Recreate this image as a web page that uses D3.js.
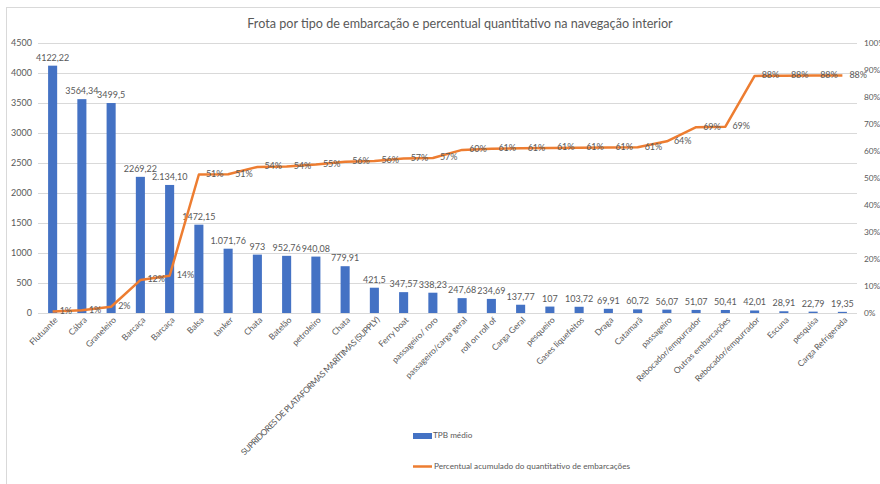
<!DOCTYPE html>
<html><head><meta charset="utf-8">
<script src="https://cdn.jsdelivr.net/npm/d3@7"></script>
<style>body{margin:0;background:#fff}svg{display:block;font-family:Lato,"Noto Sans",sans-serif}</style>
</head><body><svg id="c" width="880" height="484"></svg>
<script>
const categories = ["Flutuante","Cábra","Graneleiro","Barcaça","Barcaça","Balsa","tanker","Chata","Batelão","petroleiro","Chata","SUPRIDORES DE PLATAFORMAS MARÍTIMAS (SUPPLY)","Ferry boat","passageiro/ roro","passageiro/carga geral","roll on roll of","Carga Geral","pesqueiro","Gases liquefeitos","Draga","Catamarã","passageiro","Rebocador/empurrador","Outras embarcações","Rebocador/empurrador","Escuna","pesquisa","Carga Refrigerada"];
const tpbValues = [4122.22,3564.34,3499.5,2269.22,2134.10,1472.15,1071.76,973,952.76,940.08,779.91,421.5,347.57,338.23,247.68,234.69,137.77,107,103.72,69.91,60.72,56.07,51.07,50.41,42.01,28.91,22.79,19.35];
const tpbLabels = ["4122,22","3564,34","3499,5","2269,22","2.134,10","1472,15","1.071,76","973","952,76","940,08","779,91","421,5","347,57","338,23","247,68","234,69","137,77","107","103,72","69,91","60,72","56,07","51,07","50,41","42,01","28,91","22,79","19,35"];
const cumPercent = [0.6,1.0,2.3,12.2,13.8,51.3,51.4,54.1,54.3,55.0,56.0,56.3,57.2,57.4,60.4,60.8,61.0,61.1,61.2,61.3,61.4,63.6,68.8,69.0,87.8,87.9,88.0,88.0];
const leftTicks = [0,500,1000,1500,2000,2500,3000,3500,4000,4500];
const rightTicks = [0,10,20,30,40,50,60,70,80,90,100];
const title = "Frota por tipo de embarcação e percentual quantitativo na navegação interior";
const legendBar = "TPB médio";
const legendLine = "Percentual acumulado do quantitativo de embarcações";

const svg = d3.select("#c");
const gray = "#595959";
const L = 38, R = 857, T = 43, B = 313;

svg.append("rect").attr("x",6.5).attr("y",7.5).attr("width",900).attr("height",500)
  .attr("fill","none").attr("stroke","#d9d9d9").attr("stroke-width",1);

svg.append("text").attr("x",460).attr("y",28).attr("text-anchor","middle")
  .attr("font-size",12.6).attr("fill",gray).text(title);

const x = d3.scaleBand().domain(d3.range(categories.length)).range([L,R]).paddingInner(0.69).paddingOuter(0.345);
const y = d3.scaleLinear().domain([0,4500]).range([B,T]);
const y2 = d3.scaleLinear().domain([0,100]).range([B,T]);

svg.append("g").selectAll("line").data(leftTicks).join("line")
  .attr("x1",L).attr("x2",R).attr("y1",d=>y(d)+0.5).attr("y2",d=>y(d)+0.5)
  .attr("stroke","#d9d9d9").attr("stroke-width",1);

const ax = svg.append("g").attr("transform",`translate(${L},0)`)
  .call(d3.axisLeft(y).tickValues(leftTicks).tickSize(0).tickPadding(6).tickFormat(d3.format("d")));
ax.select(".domain").remove();
ax.selectAll("text").attr("fill",gray).attr("font-size",9).attr("font-family","Lato");

const ax2 = svg.append("g").attr("transform",`translate(${R},0)`)
  .call(d3.axisRight(y2).tickValues(rightTicks).tickSize(0).tickPadding(7).tickFormat(d=>d+"%"));
ax2.select(".domain").remove();
ax2.selectAll("text").attr("fill",gray).attr("font-size",8.3).attr("font-family","Lato");

svg.append("g").selectAll("rect").data(tpbValues).join("rect")
  .attr("x",(d,i)=>x(i)).attr("width",x.bandwidth())
  .attr("y",d=>y(d)).attr("height",d=>B-y(d)).attr("fill","#4472C4");

svg.append("g").selectAll("text").data(tpbValues).join("text")
  .attr("x",(d,i)=>x(i)+x.bandwidth()/2).attr("y",d=>y(d)-5)
  .attr("text-anchor","middle").attr("font-size",9).attr("fill",gray)
  .text((d,i)=>tpbLabels[i]);

svg.append("g").selectAll("text").data(categories).join("text")
  .attr("transform",(d,i)=>`translate(${x(i)+x.bandwidth()/2+4},${B+6}) rotate(-45)`)
  .attr("text-anchor","end").attr("dominant-baseline","middle")
  .attr("font-size",8.5).attr("letter-spacing",d=>d===d.toUpperCase()?-0.5:0)
  .attr("fill",gray).text(d=>d);

const cx = i => x(i)+x.bandwidth()/2;
svg.append("path").datum(cumPercent)
  .attr("d",d3.line().x((d,i)=>cx(i)).y(d=>y2(d)))
  .attr("fill","none").attr("stroke","#ED7D31").attr("stroke-width",2.5).attr("stroke-linejoin","round");

svg.append("g").selectAll("text").data(cumPercent).join("text")
  .attr("x",(d,i)=>cx(i)+7).attr("y",d=>y2(d)).attr("dominant-baseline","middle")
  .attr("font-size",9).attr("fill",gray).text(d=>Math.round(d)+"%");

const lg = svg.append("g");
lg.append("rect").attr("x",413).attr("y",433).attr("width",19).attr("height",6).attr("fill","#4472C4");
lg.append("text").attr("x",433).attr("y",436).attr("dominant-baseline","middle").attr("font-size",8.2).attr("fill",gray).text(legendBar);
lg.append("line").attr("x1",413).attr("x2",432).attr("y1",466.5).attr("y2",466.5).attr("stroke","#ED7D31").attr("stroke-width",2.5);
lg.append("text").attr("x",434).attr("y",466.5).attr("dominant-baseline","middle").attr("font-size",8.2).attr("fill",gray).text(legendLine);
</script></body></html>
